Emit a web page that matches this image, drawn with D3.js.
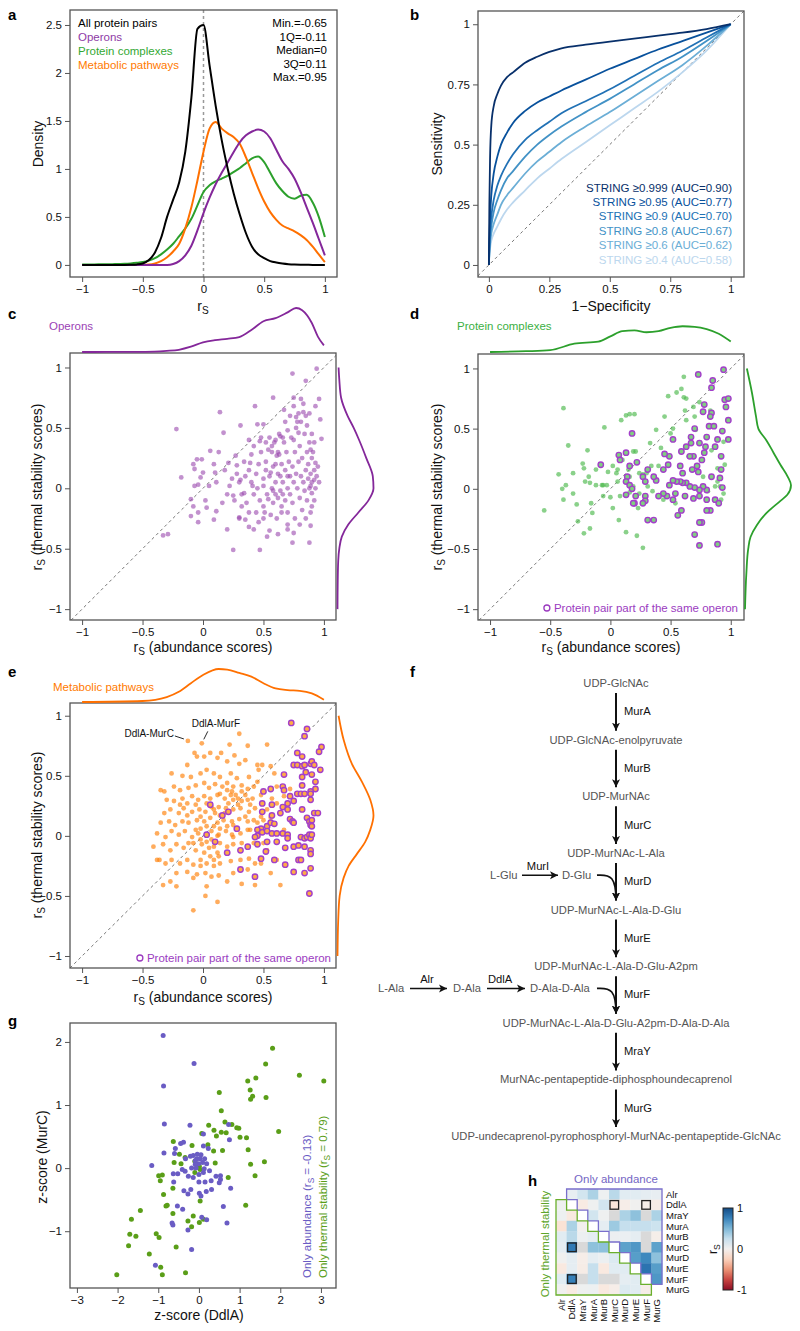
<!DOCTYPE html>
<html>
<head>
<meta charset="utf-8">
<script src="https://cdn.jsdelivr.net/npm/d3@7"></script>
<style>
  body { margin: 0; background: #fff; }
  svg { display: block; }
</style>
</head>
<body>
<script>
// ---------- data ----------

// a: density of rS
let aGrid = [-1,-0.95,-0.9,-0.85,-0.8,-0.75,-0.7,-0.65,-0.6,-0.55,-0.5,-0.45,-0.4,-0.35,-0.3,-0.25,-0.2,-0.15,-0.1,-0.05,0,0.05,0.1,0.15,0.2,0.25,0.3,0.35,0.4,0.45,0.5,0.55,0.6,0.65,0.7,0.75,0.8,0.85,0.9,0.95,1];
let aAll = [0,0,0,0,0,0,0,0,0.002,0.005,0.015,0.05,0.13,0.28,0.5,0.68,0.86,1.18,1.74,2.46,2.5,2.08,1.66,1.3,1.0,0.74,0.52,0.33,0.19,0.11,0.07,0.04,0.025,0.015,0.008,0.004,0.002,0.001,0,0,0];
let aOperons = [0,0,0,0,0,0,0,0,0,0,0,0,0,0,0,0.01,0.04,0.1,0.2,0.36,0.54,0.7,0.84,0.96,1.07,1.18,1.28,1.35,1.39,1.41,1.39,1.32,1.2,1.08,1.0,0.9,0.76,0.6,0.44,0.27,0.1];
let aComplexes = [0.005,0.005,0.005,0.006,0.007,0.008,0.01,0.012,0.016,0.022,0.03,0.045,0.07,0.11,0.16,0.22,0.3,0.38,0.48,0.62,0.76,0.83,0.87,0.9,0.93,0.97,1.01,1.06,1.11,1.13,1.07,0.96,0.85,0.77,0.71,0.69,0.72,0.73,0.65,0.5,0.29];
let aPathways = [0,0,0,0,0,0,0,0,0,0,0,0.003,0.015,0.04,0.08,0.14,0.22,0.38,0.6,0.88,1.18,1.42,1.49,1.42,1.37,1.33,1.26,1.12,0.96,0.8,0.66,0.55,0.47,0.41,0.38,0.35,0.31,0.26,0.19,0.11,0.03];
let aLegend = ['All protein pairs','Operons','Protein complexes','Metabolic pathways'];
let aStats = ['Min.=-0.65','1Q=-0.11','Median=0','3Q=0.11','Max.=0.95'];

// b: ROC curves
let bFpr = [0,0.002,0.005,0.01,0.02,0.035,0.05,0.075,0.1,0.15,0.2,0.25,0.3,0.4,0.5,0.6,0.7,0.8,0.9,1];
let bSens = [
  [0,0.25,0.45,0.58,0.66,0.71,0.745,0.78,0.8,0.84,0.865,0.885,0.9,0.915,0.928,0.94,0.953,0.965,0.98,1],
  [0,0.1,0.2,0.29,0.38,0.45,0.5,0.55,0.59,0.64,0.675,0.7,0.725,0.77,0.815,0.855,0.895,0.93,0.965,1],
  [0,0.07,0.14,0.2,0.27,0.33,0.37,0.42,0.46,0.52,0.56,0.595,0.63,0.68,0.73,0.785,0.84,0.89,0.945,1],
  [0,0.06,0.11,0.16,0.22,0.27,0.31,0.36,0.39,0.45,0.5,0.54,0.575,0.635,0.69,0.75,0.81,0.865,0.93,1],
  [0,0.05,0.09,0.13,0.17,0.21,0.25,0.29,0.32,0.38,0.43,0.47,0.51,0.575,0.635,0.7,0.765,0.83,0.91,1],
  [0,0.04,0.07,0.1,0.13,0.16,0.19,0.23,0.26,0.31,0.36,0.4,0.44,0.51,0.58,0.65,0.72,0.8,0.89,1]
];
let bLabels = ['STRING ≥0.999 (AUC=0.90)','STRING ≥0.95 (AUC=0.77)','STRING ≥0.9 (AUC=0.70)','STRING ≥0.8 (AUC=0.67)','STRING ≥0.6 (AUC=0.62)','STRING ≥0.4 (AUC=0.58)'];
let bColors = ['#08306b','#08519c','#2171b5','#4292c6','#6baed6','#bcd7ee'];

// c: operons (abundance rS, thermal stability rS)
let cPoints = [[-0.22,0.49],[-0.33,-0.39],[-0.29,-0.38],[-0.18,0.09],[-0.08,0.2],[-0.07,0.16],[-0.05,0.24],[-0.01,0.24],[0,0.13],[-0.02,0.09],[-0.04,0.03],[-0.07,0.02],[-0.1,-0.09],[-0.08,-0.15],[-0.04,-0.2],[-0.1,-0.23],[-0.04,-0.28],[0.02,-0.1],[0.03,-0.16],[0.05,0.02],[0.06,0.31],[0.13,0.3],[0.14,0.63],[0.17,0.46],[0.09,0.2],[0.1,0.13],[0.11,0.05],[0.16,-0.12],[0.11,-0.19],[0.09,-0.26],[0.2,-0.34],[0.25,-0.51],[0.21,0.21],[0.22,0.02],[0.25,-0.06],[0.28,0.19],[0.31,0.52],[0.27,0.27],[0.31,0.07],[0.34,-0.04],[0.32,-0.15],[0.3,-0.24],[0.35,-0.26],[0.38,-0.2],[0.42,-0.34],[0.43,0.68],[0.45,0.53],[0.47,0.39],[0.5,0.53],[0.41,0.02],[0.39,0.21],[0.5,0.02],[0.47,-0.51],[0.53,-0.4],[0.51,-0.2],[0.54,-0.09],[0.56,0.13],[0.58,0.75],[0.57,0.35],[0.61,0.27],[0.64,0.43],[0.67,0.65],[0.65,-0.2],[0.7,-0.34],[0.74,0.95],[0.75,0.68],[0.77,0.59],[0.79,0.46],[0.81,0.74],[0.85,0.89],[0.83,0.63],[0.89,0.32],[0.9,-0.04],[0.89,-0.31],[0.88,-0.45],[0.74,-0.45],[0.75,-0.37],[0.94,0.99],[0.96,0.74],[0.97,0.57],[0.98,0.41],[0.93,0.21],[0.92,0.07],[0.89,0.02],[0.93,0.68],
  [0.35,0.1],[0.38,0.15],[0.4,0.05],[0.42,-0.05],[0.44,0.12],[0.46,0.2],[0.47,-0.1],[0.48,0.3],[0.5,0.08],[0.5,-0.15],[0.52,0.22],[0.53,-0.05],[0.54,0.32],[0.55,0.1],[0.56,-0.22],[0.57,0],[0.58,0.18],[0.58,-0.12],[0.6,0.4],[0.6,0.05],[0.61,-0.25],[0.62,0.12],[0.62,-0.08],[0.63,0.28],[0.64,-0.02],[0.65,0.2],[0.65,-0.15],[0.66,0.05],[0.67,0.38],[0.68,-0.1],[0.68,0.15],[0.69,0.3],[0.7,0],[0.7,-0.2],[0.71,0.22],[0.72,0.1],[0.72,-0.05],[0.73,0.42],[0.74,0.18],[0.74,-0.12],[0.75,0.05],[0.76,0.3],[0.76,-0.25],[0.77,0.12],[0.78,0],[0.78,0.55],[0.79,0.22],[0.8,-0.08],[0.8,0.35],[0.81,0.1],[0.82,-0.18],[0.82,0.25],[0.83,0.05],[0.84,0.45],[0.84,-0.02],[0.85,0.15],[0.85,0.6],[0.86,-0.1],[0.86,0.3],[0.87,0.08],[0.87,0.2],[0.88,0],[0.88,0.38],[0.89,-0.2],[0.89,0.12],[0.9,0.25],[0.9,0.05],[0.91,0.3],[0.92,0.15],[0.92,-0.1],[0.93,0],[0.94,0.1],[0.95,0.18],[0.96,0.05],[0.38,0.4],[0.4,0.28],[0.42,0.35],[0.44,-0.2],[0.46,-0.28],[0.48,0.42],[0.5,-0.25],[0.52,0.38],[0.55,0.42],[0.57,0.3],[0.59,0.38],[0.6,-0.05],[0.63,0.45],[0.66,0.42],[0.68,0.55],[0.7,0.48],[0.72,0.6],[0.75,0.4],[0.77,0.5],[0.79,0.62],[0.81,0.55],[0.83,0.7],[0.86,0.52],[0.88,0.62],[0.9,0.45],[0.92,0.38],[0.3,0.05],[0.32,-0.05],[0.28,0.12],[0.26,-0.1],[0.34,0.22],[0.36,-0.12],[0.24,0.08],[0.2,-0.05],[0.18,0.15],[0.3,-0.25],[0.38,-0.32],[0.55,-0.35],[0.62,-0.38],[0.7,-0.3],[0.8,-0.3],[0.85,-0.25],[0.9,-0.15],[0.75,0.75],[0.6,0.2],[0.52,0.15],[0.45,0],[0.62,0.3],[0.7,0.1],[0.64,0.1],[0.58,-0.02],[0.66,-0.05]];
let cTopGrid = [-1,-0.8,-0.6,-0.4,-0.3,-0.2,-0.1,0,0.1,0.2,0.3,0.4,0.5,0.6,0.7,0.77,0.82,0.9,0.95,1];
let cTopDens = [0,0.001,0.003,0.01,0.025,0.05,0.12,0.22,0.27,0.3,0.34,0.5,0.7,0.77,0.9,1,0.95,0.66,0.35,0.15];
let cRightGrid = [1,0.9,0.75,0.6,0.5,0.4,0.25,0.1,0,-0.1,-0.2,-0.3,-0.4,-0.5,-0.6,-0.8,-1];
let cRightDens = [0.03,0.05,0.1,0.28,0.45,0.6,0.8,0.98,1,0.86,0.58,0.3,0.12,0.05,0.02,0.005,0];

// d: protein complexes
let dPoints = [[-0.55,-0.18],[-0.39,0.67],[-0.43,0.12],[-0.4,0],[-0.37,0.03],[-0.35,0.36],[-0.39,-0.09],[-0.31,0.13],[-0.31,-0.04],[-0.28,-0.13],[-0.27,-0.27],[-0.23,0.21],[-0.22,0.17],[-0.21,0.06],[-0.19,0.32],[-0.18,0.1],[-0.17,0.05],[-0.16,-0.12],[-0.15,-0.2],[-0.17,-0.33],[-0.22,-0.37],[-0.12,0.16],[-0.12,0.03],[-0.07,0.03],[-0.05,0.51],[-0.06,0.03],[-0.03,0.03],[-0.02,0.14],[0,-0.07],[0.02,-0.16],[0.02,0.19],[0.05,0.13],[0.06,0.06],[0.07,-0.26],[0.09,0.57],[0.13,0.61],[0.16,0.62],[0.1,0.24],[0.15,0.16],[0.13,0.07],[0.16,-0.03],[0.13,-0.36],[0.2,0.62],[0.19,0.31],[0.21,0.31],[0.23,-0.16],[0.22,-0.39],[0.27,-0.49],[0.24,0.13],[0.27,0.12],[0.3,0.13],[0.33,0.38],[0.34,0.19],[0.35,-0.02],[0.38,0.49],[0.4,0.19],[0.42,0.34],[0.44,-0.09],[0.45,0.6],[0.48,0.77],[0.5,0.46],[0.52,0.5],[0.54,-0.12],[0.55,0.8],[0.59,0.83],[0.61,0.93],[0.61,0.76],[0.63,0.75],[0.62,0.65],[0.63,0.57],[0.65,0.27],[0.69,0.68],[0.7,0.6],[0.71,0.49],[0.74,0.72],[0.77,0.1],[0.81,-0.02],[0.83,0.65],[0.84,0.32],[0.89,0.17],[0.89,0.06],[0.91,0.02],[0.94,-0.04],[0.95,0.2],[0.94,0.39],[0.92,-0.09],[0.87,0.02],[-0.06,-0.06],[0.08,-0.06],[0.19,0.02],[0.24,-0.04],[0.31,0.02],[0.06,0.16],[0.16,0.1]];
let dOperonPoints = [[0.73,0.95],[0.94,0.99],[0.85,0.9],[0.84,0.84],[0.95,0.74],[0.98,0.75],[0.96,0.68],[0.98,0.57],[0.98,0.41],[0.93,0.48],[0.78,0.7],[0.77,0.64],[0.84,0.63],[0.83,0.6],[0.82,0.52],[0.86,0.52],[0.89,0.41],[0.87,0.35],[0.8,0.43],[0.79,0.35],[0.78,0.3],[0.74,0.38],[0.7,0.5],[0.67,0.43],[0.67,0.38],[0.69,0.27],[0.66,0.27],[0.63,0.35],[0.59,0.31],[0.52,0.41],[0.49,0.27],[0.48,0.2],[0.58,0.19],[0.6,0.13],[0.68,0.16],[0.72,0.19],[0.73,0.14],[0.76,0.24],[0.84,0.1],[0.92,0.27],[0.92,0.16],[0.91,0.09],[0.93,0.01],[0.87,-0.09],[0.9,-0.12],[0.8,-0.01],[0.77,0.02],[0.74,-0.01],[0.7,0.01],[0.66,0.02],[0.63,0.05],[0.6,0.05],[0.58,0.06],[0.55,0.06],[0.52,0.07],[0.49,0.03],[0.47,-0.06],[0.44,-0.04],[0.52,-0.09],[0.54,-0.04],[0.62,-0.06],[0.69,-0.08],[0.74,-0.06],[0.8,-0.09],[0.83,-0.18],[0.8,-0.18],[0.59,-0.18],[0.56,-0.22],[0.76,-0.28],[0.74,-0.28],[0.7,-0.38],[0.74,-0.47],[0.89,-0.46],[0.36,-0.26],[0.31,-0.26],[0.38,0.07],[0.36,0.1],[0.45,0.29],[0.44,0.16],[0.31,0.16],[0.27,0.1],[0.29,0.06],[0.29,-0.06],[0.29,-0.1],[0.27,-0.12],[0.22,0.22],[0.18,0.46],[0.16,0.19],[0.14,0.1],[0.13,0.3],[0.07,0.28],[0.08,0.24],[-0.08,0.2],[0.13,0.06],[0.16,0.03],[0.18,0],[0.13,-0.05],[0.2,-0.12],[0.19,-0.12],[0.21,-0.06],[0.4,-0.06]];
let dTopGrid = [-1,-0.7,-0.5,-0.3,-0.1,0,0.1,0.2,0.3,0.4,0.5,0.6,0.7,0.8,0.9,1];
let dTopDens = [0,0.03,0.07,0.32,0.4,0.6,0.8,0.83,0.76,0.8,0.93,0.99,0.97,0.88,0.7,0.4];
let dRightGrid = [1,0.8,0.6,0.5,0.4,0.3,0.2,0.1,0.03,-0.05,-0.1,-0.2,-0.3,-0.4,-0.5,-0.7,-1];
let dRightDens = [0.04,0.15,0.24,0.29,0.47,0.62,0.77,0.93,1,0.92,0.77,0.47,0.26,0.12,0.07,0.03,0];

// e: metabolic pathways
let ePoints = [[-0.125,0.79],[-0.01,0.77],[0.3,0.85],[0.22,0.76],[0.37,0.75],[0.53,0.76],[-0.07,0.69],[0.06,0.69],[0.15,0.69],[0.26,0.67],[-0.13,0.59],[-0.05,0.66],[0.01,0.66],[0.12,0.65],[0.2,0.62],[0.3,0.6],[0.35,0.63],[0.45,0.59],[0.49,0.59],[0.56,0.58],[-0.26,0.52],[-0.17,0.5],[-0.1,0.49],[-0.02,0.52],[0.03,0.55],[0.09,0.52],[0.14,0.49],[0.23,0.52],[0.28,0.48],[0.38,0.49],[0.46,0.55],[0.59,0.52],[-0.35,0.38],[-0.32,0.37],[-0.24,0.41],[-0.19,0.38],[-0.12,0.4],[-0.06,0.42],[0.01,0.44],[0.05,0.4],[0.1,0.43],[0.16,0.41],[0.2,0.44],[0.25,0.41],[0.32,0.42],[0.37,0.39],[0.42,0.41],[0.45,0.45],[0.61,0.41],[-0.3,0.3],[-0.24,0.29],[-0.17,0.31],[-0.13,0.27],[-0.09,0.33],[-0.04,0.3],[0.01,0.33],[0.06,0.31],[0.12,0.34],[0.18,0.31],[0.23,0.34],[0.29,0.31],[0.35,0.34],[0.41,0.31],[0.48,0.34],[0.57,0.31],[0.72,0.39],[-0.32,0.19],[-0.27,0.22],[-0.2,0.19],[-0.16,0.23],[-0.09,0.2],[-0.03,0.22],[0.02,0.2],[0.09,0.22],[0.13,0.24],[0.19,0.23],[0.25,0.22],[0.31,0.23],[0.38,0.2],[0.43,0.23],[0.53,0.22],[-0.35,0.11],[-0.28,0.12],[-0.23,0.09],[-0.17,0.12],[-0.12,0.11],[-0.05,0.13],[0.01,0.12],[0.06,0.15],[0.12,0.11],[0.17,0.13],[0.24,0.12],[0.3,0.14],[0.37,0.12],[0.42,0.13],[-0.38,0.02],[-0.31,-0.01],[-0.26,0.04],[-0.2,0.01],[-0.15,0.04],[-0.09,-0.01],[-0.04,0.02],[0.07,0.04],[0.13,0.01],[0.19,0.04],[0.24,0.01],[0.31,0.02],[0.37,0.05],[-0.41,-0.09],[-0.38,-0.2],[-0.36,-0.2],[-0.33,-0.07],[-0.27,-0.12],[-0.22,-0.07],[-0.16,-0.1],[-0.12,-0.06],[-0.06,-0.12],[-0.01,-0.07],[0.05,-0.1],[0.09,-0.09],[0.14,-0.06],[0.2,-0.09],[0.25,-0.07],[0.32,-0.06],[-0.31,-0.23],[-0.26,-0.2],[-0.19,-0.23],[-0.13,-0.2],[-0.08,-0.24],[-0.02,-0.2],[0.03,-0.23],[0.09,-0.2],[0.14,-0.23],[0.23,-0.21],[0.31,-0.2],[0.38,-0.19],[0.43,-0.23],[-0.22,-0.31],[-0.13,-0.3],[-0.05,-0.32],[0.02,-0.31],[0.07,-0.34],[0.13,-0.33],[0.25,-0.31],[0.37,-0.28],[-0.33,-0.41],[-0.27,-0.38],[-0.22,-0.42],[-0.08,-0.35],[0.03,-0.42],[0.2,-0.38],[0.32,-0.4],[0.43,-0.41],[0.64,-0.41],[0.02,-0.5],[0.12,-0.55],[-0.08,-0.62],
  [0.03,0.27],[0.07,0.24],[0.1,0.19],[0.14,0.17],[0.18,0.19],[0.21,0.27],[0.25,0.3],[0.29,0.26],[0.32,0.29],[0.14,0.35],[0.2,0.38],[0.24,0.37],[0.27,0.34],[0.32,0.37],[0.37,0.3],[0.39,0.26],[0.35,0.16],[0.25,0.09],[0.2,0.08],[0.14,0.06],[0.09,0.08],[0.03,0.08],[-0.02,0.06],[-0.06,0.05],[-0.02,0.16],[-0.06,0.26],[-0.13,0.17],[-0.19,0.26],[0.12,0],[0.07,-0.03],[0.03,-0.05],[-0.02,-0.03],[-0.08,-0.06],[0.01,-0.14],[0.06,-0.17],[0.12,-0.14],[-0.02,-0.25],[0.09,-0.25],[0.13,-0.17],[0.25,-0.01],[0.42,-0.06],[0.48,0.16],[0.5,0.13],[0.56,0.15],[0.61,0.27],[0.67,0.33],[0.39,0.05],[0.45,0.11],[0.5,-0.06],[0.48,-0.23],[0.56,-0.31],[0.61,-0.2],[0.53,-0.12],[0.67,0.05]];
let eOperonPoints = [[0.73,0.94],[0.86,0.89],[0.84,0.83],[0.98,0.74],[0.96,0.7],[0.78,0.69],[0.82,0.66],[0.75,0.59],[0.78,0.59],[0.82,0.58],[0.84,0.59],[0.89,0.6],[0.9,0.62],[0.92,0.59],[0.97,0.55],[0.85,0.53],[0.67,0.51],[0.9,0.51],[0.82,0.49],[0.93,0.45],[0.66,0.41],[0.67,0.38],[0.82,0.42],[0.93,0.39],[0.78,0.35],[0.81,0.35],[0.84,0.35],[0.89,0.37],[0.89,0.35],[0.5,0.37],[0.56,0.39],[0.72,0.33],[0.75,0.29],[0.89,0.3],[0.49,0.27],[0.57,0.26],[0.7,0.27],[0.66,0.24],[0.7,0.22],[0.82,0.22],[0.92,0.19],[0.95,0.19],[0.06,0.26],[0.21,0.2],[0.16,0.17],[0.49,0.2],[0.57,0.17],[0.64,0.19],[0.72,0.14],[0.74,0.12],[0.75,0.11],[0.86,0.15],[0.88,0.12],[0.9,0.13],[0.89,0.09],[0.9,0.08],[0.53,0.08],[0.56,0.11],[0.59,0.1],[0.48,0.06],[0.45,0.05],[0.45,0],[0.49,0.03],[0.53,0.04],[0.57,0.02],[0.61,0.02],[0.66,0.02],[0.7,0.01],[0.7,-0.02],[0.81,-0.01],[0.84,-0.02],[0.86,-0.01],[0.88,0.01],[0.89,-0.02],[0.9,0.01],[0.28,0.06],[0.03,0.01],[0.1,-0.05],[0.43,-0.01],[0.37,-0.09],[0.45,-0.07],[0.53,-0.05],[0.61,-0.05],[0.52,-0.13],[0.31,-0.12],[0.2,-0.14],[0.68,-0.1],[0.75,-0.09],[0.79,-0.08],[0.84,-0.09],[0.89,-0.12],[0.89,-0.15],[0.48,-0.19],[0.59,-0.2],[0.79,-0.2],[0.81,-0.2],[0.68,-0.24],[0.89,-0.27],[0.31,-0.28],[0.75,-0.3],[0.84,-0.31],[0.43,-0.34],[0.88,-0.48]];
let eTopGrid = [-1,-0.5,-0.3,-0.2,-0.1,0,0.13,0.2,0.3,0.4,0.5,0.6,0.7,0.8,0.9,1];
let eTopDens = [0,0.03,0.15,0.31,0.57,0.82,1,0.98,0.88,0.77,0.57,0.41,0.36,0.34,0.26,0.07];
let eRightGrid = [1,0.8,0.6,0.45,0.3,0.17,0.05,-0.05,-0.15,-0.25,-0.35,-0.5,-0.7,-1];
let eRightDens = [0.03,0.17,0.4,0.68,0.91,1,0.91,0.77,0.54,0.31,0.17,0.06,0.02,0];
let eAnnot = [['DdlA-MurC',-0.125,0.79],['DdlA-MurF',-0.01,0.77]];

// f: pathway
let fMetabolites = ['UDP-GlcNAc','UDP-GlcNAc-enolpyruvate','UDP-MurNAc','UDP-MurNAc-L-Ala','UDP-MurNAc-L-Ala-D-Glu','UDP-MurNAc-L-Ala-D-Glu-A2pm','UDP-MurNAc-L-Ala-D-Glu-A2pm-D-Ala-D-Ala','MurNAc-pentapeptide-diphosphoundecaprenol','UDP-undecaprenol-pyrophosphoryl-MurNAc-pentapeptide-GlcNAc'];
let fEnzymes = ['MurA','MurB','MurC','MurD','MurE','MurF','MraY','MurG'];

// g: z-scores of DdlA vs MurC
let gAbundance = [[-0.88,2.1],[-0.12,1.66],[-0.87,1.3],[-0.85,0.7],[-0.22,0.68],[-0.86,0.24],[-1.16,0.04],[0.11,0.54],[0.75,0.45],[0.73,0.69],[-0.45,0.39],[-0.38,0.41],[-0.58,0.31],[-0.6,0.23],[-0.33,0.15],[-0.21,0.19],[-0.14,0.2],[-0.04,0.22],[0.05,0.21],[0.11,0.35],[0.23,0.31],[0.14,0.15],[0.19,0.07],[0.09,0.09],[-0.01,0.07],[-0.09,0.06],[-0.18,0],[-0.41,-0.02],[-0.63,-0.09],[-0.52,-0.09],[-0.34,-0.05],[-0.26,-0.13],[-0.14,-0.15],[0,-0.1],[0.11,-0.07],[0.26,-0.04],[0.42,-0.13],[0.53,-0.12],[0.5,-0.23],[0.53,-0.18],[0.3,-0.2],[0.15,-0.22],[0,-0.22],[-0.62,-0.22],[-0.37,-0.36],[-0.2,-0.34],[-0.27,-0.41],[0.01,-0.4],[0.05,-0.44],[0.31,-0.34],[0.18,-0.37],[0.78,-0.32],[-0.53,-0.6],[-0.4,-0.65],[0.6,-0.61],[0.07,-0.78],[0.19,-0.82],[-0.66,-0.87],[-0.64,-0.9],[0.69,-0.87],[-0.27,-0.98],[-0.18,-1.29],[-1.07,-1.54],[-0.05,0.15],[0.03,0.15],[-0.09,0.12],[-0.07,0],[0.13,-0.01]];
let gThermal = [[1.81,1.9],[1.64,1.65],[2.47,1.47],[3.07,1.38],[1.4,1.43],[1.2,1.38],[1.26,1.24],[1.32,1.14],[1.27,1.09],[1.65,1.12],[0.5,1.2],[0.55,0.91],[0.64,0.73],[0.81,0.69],[0.93,0.64],[0.98,0.63],[1.01,0.49],[1.17,0.48],[1.96,0.58],[0.24,0.68],[0.37,0.6],[0.55,0.57],[0.67,0.56],[0.43,0.51],[0.07,0.55],[1.21,0.29],[0.58,0.28],[0.22,0.37],[0.36,0.27],[-0.17,0.36],[-0.63,0.42],[-0.48,0.22],[-0.61,0.09],[-0.44,0.07],[-0.34,0.17],[0.4,0.08],[1.27,0.06],[1.61,0.1],[1.38,-0.12],[0.72,-0.15],[-0.1,0.11],[0.01,0.03],[0.03,-0.02],[-0.1,-0.07],[-0.99,-0.12],[-0.9,-0.11],[-0.95,-0.2],[-0.87,-0.42],[-0.64,-0.32],[-0.81,-0.6],[-0.78,-0.59],[-0.64,-0.72],[-1.44,-0.67],[-1.66,-0.81],[-1.7,-1.05],[-1.55,-1.08],[-1.73,-1.23],[-1.05,-1.04],[-0.98,-1.1],[-1.22,-1.36],[-0.94,-1.57],[-0.9,-1.69],[-2.02,-1.69],[-0.56,-1.25],[-0.33,-1.66],[-0.27,-0.84],[-0.18,-0.93],[-0.14,-0.76],[0.01,-0.86],[0.11,-0.81],[0.03,-0.52],[1.15,-0.59]];

// h: rS matrix (upper = only abundance, lower = only thermal stability), 'NA' = missing
let hGenes = ['Alr','DdlA','MraY','MurA','MurB','MurC','MurD','MurE','MurF','MurG'];
let hValues = [
  [null,0.08,0.2,0.35,0.04,0.3,0.12,0.12,0.1,0.08],
  [0.03,null,-0.08,0.03,0.2,-0.13,-0.05,0.02,-0.04,-0.06],
  [0.04,-0.1,null,0.2,0.03,'NA',0.35,0.45,'NA',0.35],
  [-0.15,0.35,0.0,null,0.1,0.4,0.25,0.25,0.25,0.22],
  [0.12,0.3,0.05,0.1,null,0.05,0.06,0.1,'NA',-0.04],
  [0.1,0.79,'NA',0.45,0.45,null,0.6,0.65,'NA',0.6],
  [0.02,0.1,-0.05,0.1,0.05,0.15,null,0.62,0.72,0.45],
  [-0.1,0.1,-0.06,0.25,-0.1,0.12,0.12,null,0.82,0.62],
  [0.12,0.76,'NA',0.25,'NA','NA',0.1,0.12,null,0.65],
  [0.02,-0.08,0.03,0.04,-0.1,-0.05,0.15,0.12,-0.05,null]
];
let hBoxed = [[1,5],[1,8],[5,1],[8,1]];

// ---------- drawing ----------
const FONT = '"Liberation Sans", Arial, Helvetica, sans-serif';
const PURPLE = '#84279a', GREEN = '#2ca02c', ORANGE = '#ff7000', RING = '#a33fca';

let svg = d3.select('body').append('svg')
  .attr('width', 800).attr('height', 1331)
  .style('font-family', FONT);

let defs = svg.append('defs');
defs.append('marker').attr('id', 'arr')
  .attr('viewBox', '0 0 10 10').attr('refX', 10).attr('refY', 5)
  .attr('markerUnits', 'userSpaceOnUse').attr('markerWidth', 8).attr('markerHeight', 9)
  .attr('orient', 'auto')
  .append('path').attr('d', 'M0,0 L10,5 L0,10 L2.5,5 Z').attr('fill', '#111');

function frame(x, y) {
  svg.append('rect')
    .attr('x', x.range()[0]).attr('y', y.range()[1])
    .attr('width', x.range()[1] - x.range()[0])
    .attr('height', y.range()[0] - y.range()[1])
    .attr('fill', 'none').attr('stroke', '#555').attr('stroke-width', 1.3);
}

function axes(x, y, xt, yt) {
  let gx = svg.append('g').attr('transform', `translate(0,${y.range()[0]})`)
    .call(d3.axisBottom(x).tickValues(xt).tickSize(5).tickPadding(3).tickFormat(d3.format('')));
  let gy = svg.append('g').attr('transform', `translate(${x.range()[0]},0)`)
    .call(d3.axisLeft(y).tickValues(yt).tickSize(5).tickPadding(3).tickFormat(d3.format('')));
  [gx, gy].forEach(g => {
    g.select('.domain').remove();
    g.attr('font-family', FONT).attr('font-size', 11.5);
    g.selectAll('line').attr('stroke', '#555');
    g.selectAll('text').attr('fill', '#111');
  });
}

function rsText(t, rest) {
  t.append('tspan').text('r');
  t.append('tspan').attr('dy', 3).attr('font-size', '0.72em').text('S');
  t.append('tspan').attr('dy', -3).text(rest);
}

function xTitle(cx, y, fn) {
  let t = svg.append('text').attr('x', cx).attr('y', y).attr('text-anchor', 'middle')
    .attr('font-size', 14).attr('fill', '#111');
  fn(t);
}
function yTitle(x, cy, fn) {
  let t = svg.append('text').attr('transform', `translate(${x},${cy}) rotate(-90)`)
    .attr('text-anchor', 'middle').attr('font-size', 14).attr('fill', '#111');
  fn(t);
}

function letter(ch, x, y) {
  svg.append('text').attr('x', x).attr('y', y).attr('font-size', 15)
    .attr('font-weight', 'bold').attr('fill', '#000').text(ch);
}

function topMargin(x, grid, dens, base, h, color) {
  let my = d3.scaleLinear([0, 1], [base, base - h]);
  svg.append('path').datum(d3.zip(grid, dens))
    .attr('d', d3.line(d => x(d[0]), d => my(d[1])).curve(d3.curveMonotoneX))
    .attr('fill', 'none').attr('stroke', color).attr('stroke-width', 1.8);
}
function rightMargin(y, grid, dens, base, w, color) {
  let mx = d3.scaleLinear([0, 1], [base, base + w]);
  svg.append('path').datum(d3.zip(grid, dens))
    .attr('d', d3.line(d => mx(d[1]), d => y(d[0])).curve(d3.curveMonotoneY))
    .attr('fill', 'none').attr('stroke', color).attr('stroke-width', 1.8);
}

function diagonal(x, y, lo, hi) {
  svg.append('line')
    .attr('x1', x(lo)).attr('y1', y(lo)).attr('x2', x(hi)).attr('y2', y(hi))
    .attr('stroke', '#777').attr('stroke-width', 1).attr('stroke-dasharray', '3,3');
}

function dots(x, y, pts, fill, op, r) {
  svg.append('g').selectAll('circle').data(pts).join('circle')
    .attr('cx', d => x(d[0])).attr('cy', d => y(d[1])).attr('r', r)
    .attr('fill', fill).attr('fill-opacity', op);
}
function rings(x, y, pts, fill) {
  svg.append('g').selectAll('circle').data(pts).join('circle')
    .attr('cx', d => x(d[0])).attr('cy', d => y(d[1])).attr('r', 2.7)
    .attr('fill', fill).attr('stroke', RING).attr('stroke-width', 1.4);
}

function operonLegend(xr, yb) {
  let t = svg.append('text').attr('x', xr).attr('y', yb).attr('text-anchor', 'end')
    .attr('font-size', 11.5).attr('fill', '#9b3bbf').text('Protein pair part of the same operon');
  let w = t.node().getComputedTextLength();
  svg.append('circle').attr('cx', xr - w - 7).attr('cy', yb - 4).attr('r', 3)
    .attr('fill', 'none').attr('stroke', '#9b3bbf').attr('stroke-width', 1.3);
}

// ----- panel a -----
{
  let x = d3.scaleLinear([-1.1, 1.1], [70, 337]);
  let y = d3.scaleLinear([-0.126, 2.656], [277, 10]);
  svg.append('line').attr('x1', x(0)).attr('x2', x(0)).attr('y1', y.range()[0]).attr('y2', y.range()[1])
    .attr('stroke', '#999').attr('stroke-width', 1.5).attr('stroke-dasharray', '3,3');
  let series = [aComplexes, aPathways, aOperons, aAll];
  let cols = [GREEN, ORANGE, PURPLE, '#000'];
  series.forEach((s, i) => {
    svg.append('path').datum(d3.zip(aGrid, s))
      .attr('d', d3.line(d => x(d[0]), d => y(d[1])).curve(d3.curveMonotoneX))
      .attr('fill', 'none').attr('stroke', cols[i]).attr('stroke-width', 2);
  });
  frame(x, y);
  axes(x, y, [-1, -0.5, 0, 0.5, 1], [0, 0.5, 1, 1.5, 2, 2.5]);
  let legCols = ['#000', '#8e3aa6', '#33a833', '#ff7a00'];
  aLegend.forEach((l, i) => {
    svg.append('text').attr('x', 78).attr('y', 27 + i * 14).attr('font-size', 11.5)
      .attr('fill', legCols[i]).text(l);
  });
  aStats.forEach((l, i) => {
    svg.append('text').attr('x', 327).attr('y', 27 + i * 13.5).attr('font-size', 11.5)
      .attr('text-anchor', 'end').attr('fill', '#000').text(l);
  });
  xTitle(203, 311, t => rsText(t, ''));
  yTitle(43, 144, t => t.text('Density'));
  letter('a', 8, 20);
}

// ----- panel b -----
{
  let x = d3.scaleLinear([-0.045, 1.055], [478, 744]);
  let y = d3.scaleLinear([-0.05, 1.055], [277, 11]);
  diagonal(x, y, -0.045, 1.055);
  bSens.slice().reverse().forEach((s, k) => {
    let i = bSens.length - 1 - k;
    svg.append('path').datum(d3.zip(bFpr, s))
      .attr('d', d3.line(d => x(d[0]), d => y(d[1])).curve(d3.curveMonotoneX))
      .attr('fill', 'none').attr('stroke', bColors[i]).attr('stroke-width', 1.8);
  });
  frame(x, y);
  axes(x, y, [0, 0.25, 0.5, 0.75, 1], [0, 0.25, 0.5, 0.75, 1]);
  bLabels.forEach((l, i) => {
    svg.append('text').attr('x', 732).attr('y', 191.5 + i * 14.4).attr('font-size', 11.5)
      .attr('text-anchor', 'end').attr('fill', bColors[i]).text(l);
  });
  xTitle(611, 311, t => t.text('1\u2212Specificity'));
  yTitle(442, 144, t => t.text('Sensitivity'));
  letter('b', 410, 20);
}

// ----- panel c -----
{
  let x = d3.scaleLinear([-1.1, 1.1], [70, 336]);
  let y = d3.scaleLinear([-1.09, 1.12], [620, 353]);
  diagonal(x, y, -1.09, 1.1);
  dots(x, y, cPoints, '#9a48ae', 0.6, 2.4);
  frame(x, y);
  axes(x, y, [-1, -0.5, 0, 0.5, 1], [-1, -0.5, 0, 0.5, 1]);
  topMargin(x, cTopGrid, cTopDens, 352, 44, PURPLE);
  rightMargin(y, cRightGrid, cRightDens, 337.5, 36, PURPLE);
  svg.append('text').attr('x', 49).attr('y', 330).attr('font-size', 11.5).attr('fill', '#9b3fb5').text('Operons');
  xTitle(203, 652, t => rsText(t, ' (abundance scores)'));
  yTitle(42, 487, t => rsText(t, ' (thermal stability scores)'));
  letter('c', 8, 319);
}

// ----- panel d -----
{
  let x = d3.scaleLinear([-1.1, 1.11], [478, 744]);
  let y = d3.scaleLinear([-1.09, 1.12], [620, 354]);
  diagonal(x, y, -1.09, 1.11);
  dots(x, y, dPoints, '#4cb84c', 0.65, 2.4);
  rings(x, y, dOperonPoints, '#7fd07f');
  frame(x, y);
  axes(x, y, [-1, -0.5, 0, 0.5, 1], [-1, -0.5, 0, 0.5, 1]);
  topMargin(x, dTopGrid, dTopDens, 352, 26, GREEN);
  rightMargin(y, dRightGrid, dRightDens, 745, 46, GREEN);
  svg.append('text').attr('x', 457).attr('y', 330).attr('font-size', 11.5).attr('fill', '#3cb043').text('Protein complexes');
  operonLegend(738, 612);
  xTitle(611, 652, t => rsText(t, ' (abundance scores)'));
  yTitle(442, 487, t => rsText(t, ' (thermal stability scores)'));
  letter('d', 410, 319);
}

// ----- panel e -----
{
  let x = d3.scaleLinear([-1.1, 1.1], [70, 336]);
  let y = d3.scaleLinear([-1.1, 1.106], [968, 703]);
  diagonal(x, y, -1.1, 1.1);
  dots(x, y, ePoints, '#ff8510', 0.68, 2.4);
  rings(x, y, eOperonPoints, '#ffab45');
  frame(x, y);
  axes(x, y, [-1, -0.5, 0, 0.5, 1], [-1, -0.5, 0, 0.5, 1]);
  topMargin(x, eTopGrid, eTopDens, 702, 33, ORANGE);
  rightMargin(y, eRightGrid, eRightDens, 337.5, 36, ORANGE);
  svg.append('text').attr('x', 53).attr('y', 691).attr('font-size', 11.5).attr('fill', '#ff7a00').text('Metabolic pathways');
  operonLegend(331, 962);
  // annotations
  let a0 = eAnnot[0], a1 = eAnnot[1];
  svg.append('text').attr('x', x(a0[1]) - 14).attr('y', y(a0[2]) - 4).attr('text-anchor', 'end')
    .attr('font-size', 10).attr('fill', '#111').text(a0[0]);
  svg.append('line').attr('x1', x(a0[1]) - 13).attr('y1', y(a0[2]) - 5).attr('x2', x(a0[1]) - 4).attr('y2', y(a0[2]) - 2)
    .attr('stroke', '#111').attr('stroke-width', 0.9);
  svg.append('text').attr('x', x(a1[1]) - 10).attr('y', y(a1[2]) - 16)
    .attr('font-size', 10).attr('fill', '#111').text(a1[0]);
  svg.append('line').attr('x1', x(a1[1]) + 6).attr('y1', y(a1[2]) - 12).attr('x2', x(a1[1]) + 2).attr('y2', y(a1[2]) - 4)
    .attr('stroke', '#111').attr('stroke-width', 0.9);
  xTitle(203, 1002, t => rsText(t, ' (abundance scores)'));
  yTitle(42, 835, t => rsText(t, ' (thermal stability scores)'));
  letter('e', 8, 677);
}

// ----- panel f: pathway -----
{
  let cx = 616;
  let yy = d3.scaleLinear([0, fMetabolites.length - 1], [683, 1136]);
  let g = svg.append('g').attr('font-size', 11.2);
  fMetabolites.forEach((m, i) => {
    g.append('text').attr('x', cx).attr('y', yy(i) + 4).attr('text-anchor', 'middle')
      .attr('fill', '#555').text(m);
  });
  fEnzymes.forEach((e, i) => {
    g.append('line').attr('x1', cx).attr('x2', cx).attr('y1', yy(i) + 10).attr('y2', yy(i + 1) - 9)
      .attr('stroke', '#111').attr('stroke-width', 2).attr('marker-end', 'url(#arr)');
    g.append('text').attr('x', cx + 8).attr('y', (yy(i) + yy(i + 1)) / 2 + 4)
      .attr('fill', '#111').text(e);
  });
  // branch into MurD
  let yGlu = (yy(3) + yy(4)) / 2 - 6;
  g.append('text').attr('x', 490).attr('y', yGlu + 4).attr('fill', '#555').text('L-Glu');
  g.append('line').attr('x1', 522).attr('x2', 558).attr('y1', yGlu).attr('y2', yGlu)
    .attr('stroke', '#111').attr('stroke-width', 1.6).attr('marker-end', 'url(#arr)');
  g.append('text').attr('x', 538).attr('y', yGlu - 5).attr('text-anchor', 'middle').attr('fill', '#111').text('MurI');
  g.append('text').attr('x', 562).attr('y', yGlu + 4).attr('fill', '#555').text('D-Glu');
  g.append('path').attr('d', `M597,${yGlu} C611,${yGlu - 1} ${cx},${yGlu + 2} ${cx},${yy(4) - 9}`)
    .attr('fill', 'none').attr('stroke', '#111').attr('stroke-width', 1.7).attr('marker-end', 'url(#arr)');
  // branch into MurF
  let yAla = (yy(5) + yy(6)) / 2 - 6;
  g.append('text').attr('x', 378).attr('y', yAla + 4).attr('fill', '#555').text('L-Ala');
  g.append('line').attr('x1', 410).attr('x2', 447).attr('y1', yAla).attr('y2', yAla)
    .attr('stroke', '#111').attr('stroke-width', 1.6).attr('marker-end', 'url(#arr)');
  g.append('text').attr('x', 427).attr('y', yAla - 5).attr('text-anchor', 'middle').attr('fill', '#111').text('Alr');
  g.append('text').attr('x', 453).attr('y', yAla + 4).attr('fill', '#555').text('D-Ala');
  g.append('line').attr('x1', 487).attr('x2', 525).attr('y1', yAla).attr('y2', yAla)
    .attr('stroke', '#111').attr('stroke-width', 1.6).attr('marker-end', 'url(#arr)');
  g.append('text').attr('x', 500).attr('y', yAla - 5).attr('text-anchor', 'middle').attr('fill', '#111').text('DdlA');
  g.append('text').attr('x', 530).attr('y', yAla + 4).attr('fill', '#555').text('D-Ala-D-Ala');
  g.append('path').attr('d', `M597,${yAla} C611,${yAla - 1} ${cx},${yAla + 2} ${cx},${yy(6) - 9}`)
    .attr('fill', 'none').attr('stroke', '#111').attr('stroke-width', 1.7).attr('marker-end', 'url(#arr)');
  letter('f', 410, 677);
}

// ----- panel g -----
{
  let x = d3.scaleLinear([-3.17, 3.37], [70, 336]);
  let y = d3.scaleLinear([-1.9, 2.3], [1288, 1023]);
  dots(x, y, gThermal, '#5a9e18', 1, 2.5);
  dots(x, y, gAbundance, '#6a5cc4', 1, 2.5);
  frame(x, y);
  axes(x, y, [-3, -2, -1, 0, 1, 2, 3], [-1, 0, 1, 2]);
  let t1 = svg.append('text').attr('transform', 'translate(311,1278) rotate(-90)')
    .attr('font-size', 11.5).attr('fill', '#6a5cc4');
  rsText(t1.append('tspan').text('Only abundance ('), ' = -0.13)');
  let t2 = svg.append('text').attr('transform', 'translate(327,1278) rotate(-90)')
    .attr('font-size', 11.5).attr('fill', '#5a9e18');
  rsText(t2.append('tspan').text('Only thermal stability ('), ' = 0.79)');
  xTitle(199, 1320, t => t.text('z-score (DdlA)'));
  yTitle(47, 1157, t => t.text('z-score (MurC)'));
  letter('g', 8, 1026);
}

// ----- panel h: heatmap -----
{
  let x = d3.scaleBand(hGenes, [556, 662]);
  let y = d3.scaleBand(hGenes, [1189, 1295]);
  let c = x.bandwidth();
  let col = v => v === null ? '#ffffff' : v === 'NA' ? '#d9d9d9' : d3.interpolateRdBu(0.5 + v * 0.45);
  let cells = [];
  hValues.forEach((row, i) => row.forEach((v, j) => cells.push({ i, j, v })));
  svg.append('g').selectAll('rect').data(cells).join('rect')
    .attr('x', d => x(hGenes[d.j])).attr('y', d => y(hGenes[d.i]))
    .attr('width', c + 0.3).attr('height', c + 0.3)
    .attr('fill', d => col(d.v));
  // boxed cells
  svg.append('g').selectAll('rect').data(hBoxed).join('rect')
    .attr('x', d => x(hGenes[d[1]]) + 1).attr('y', d => y(hGenes[d[0]]) + 1)
    .attr('width', c - 2).attr('height', c - 2)
    .attr('fill', 'none').attr('stroke', '#222').attr('stroke-width', 1.3);
  let x0 = 556, y0 = 1189, n = hGenes.length;
  // upper triangle border
  let up = [[x0 + c, y0], [x0 + n * c, y0], [x0 + n * c, y0 + (n - 1) * c]];
  for (let k = n - 1; k >= 1; k--) { up.push([x0 + k * c, y0 + k * c]); up.push([x0 + k * c, y0 + (k - 1) * c]); }
  svg.append('path').attr('d', d3.line()(up) + 'Z').attr('fill', 'none').attr('stroke', '#7a6fcc').attr('stroke-width', 1.3);
  // lower triangle border
  let lo = [[x0, y0 + c], [x0, y0 + n * c], [x0 + (n - 1) * c, y0 + n * c]];
  for (let k = n - 1; k >= 1; k--) { lo.push([x0 + k * c, y0 + k * c]); lo.push([x0 + (k - 1) * c, y0 + k * c]); }
  svg.append('path').attr('d', d3.line()(lo) + 'Z').attr('fill', 'none').attr('stroke', '#6aaf2c').attr('stroke-width', 1.3);
  // labels
  svg.append('g').selectAll('text').data(hGenes).join('text')
    .attr('x', 666).attr('y', d => y(d) + c / 2 + 3.5).attr('font-size', 9.5).attr('fill', '#111').text(d => d);
  svg.append('g').selectAll('text').data(hGenes).join('text')
    .attr('transform', d => `translate(${x(d) + c / 2 + 3.5},1299) rotate(-90)`)
    .attr('text-anchor', 'end').attr('font-size', 9.5).attr('fill', '#111').text(d => d);
  svg.append('text').attr('x', 616).attr('y', 1183).attr('text-anchor', 'middle')
    .attr('font-size', 11.5).attr('fill', '#7466c4').text('Only abundance');
  svg.append('text').attr('transform', 'translate(549,1244) rotate(-90)').attr('text-anchor', 'middle')
    .attr('font-size', 11.5).attr('fill', '#5ea52a').text('Only thermal stability');
  // colour bar
  let cb = d3.scaleLinear([-1, 1], [1290, 1208]);
  let grad = defs.append('linearGradient').attr('id', 'rdbu').attr('x1', 0).attr('x2', 0).attr('y1', 1).attr('y2', 0);
  [-1, -0.75, -0.5, -0.25, 0, 0.25, 0.5, 0.75, 1].forEach(v => {
    grad.append('stop').attr('offset', (v + 1) / 2).attr('stop-color', d3.interpolateRdBu(0.5 + v * 0.45));
  });
  svg.append('rect').attr('x', 723).attr('y', cb(1)).attr('width', 10).attr('height', cb(-1) - cb(1))
    .attr('fill', 'url(#rdbu)').attr('stroke', '#222').attr('stroke-width', 1);
  [[1, '1'], [0, '0'], [-1, '-1']].forEach(d => {
    svg.append('text').attr('x', 737).attr('y', cb(d[0]) + 4).attr('font-size', 11).attr('fill', '#111').text(d[1]);
  });
  let rl = svg.append('text').attr('transform', `translate(717,${cb(0)}) rotate(-90)`)
    .attr('text-anchor', 'middle').attr('font-size', 12).attr('fill', '#111');
  rsText(rl, '');
  letter('h', 528, 1186);
}
</script>
</body>
</html>
